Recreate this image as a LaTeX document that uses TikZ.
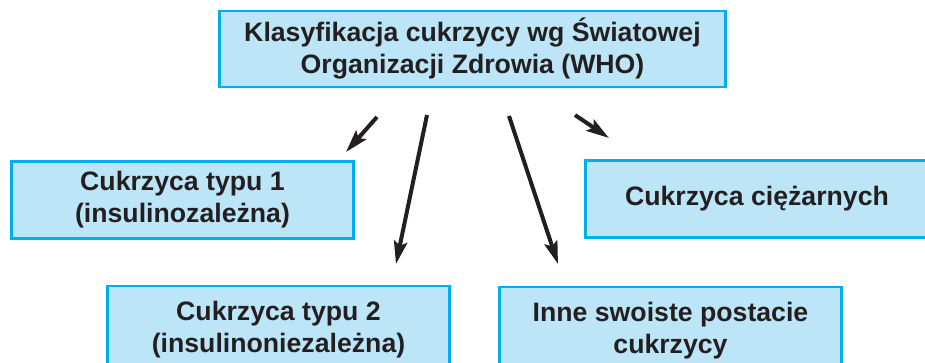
\documentclass[tikz,border=0pt]{standalone}
\usepackage{fontspec}
\setmainfont{Liberation Sans}
\usetikzlibrary{arrows.meta}
\definecolor{boxfill}{HTML}{BDE5F8}
\definecolor{boxline}{HTML}{00AEEF}
\definecolor{ink}{HTML}{231F20}
\begin{document}
\begin{tikzpicture}[x=0.75pt, y=-0.75pt,
  box/.style={rectangle, draw=boxline, fill=boxfill, line width=2.2pt, text=ink,
    font=\fontsize{20}{24}\selectfont\bfseries, align=center,
    minimum width=257pt, minimum height=#1, inner sep=0pt},
  arr/.style={draw=ink, line width=3pt, -{Stealth[length=17pt, width=10pt, inset=3pt]}}]
\useasboundingbox (0,0) rectangle (925,363);
\node [box=57pt, minimum width=380pt] (who) at (472.5,49) {Klasyfikacja cukrzycy wg Światowej\\Organizacji Zdrowia (WHO)};
\node [box=58pt] (typ1) at (182.5,200) {Cukrzyca typu 1\\(insulinozależna)};
\node [box=58pt] (ciaz) at (757,199) {Cukrzyca ciężarnych};
\node [box=66pt] (typ2) at (278.5,330) {Cukrzyca typu 2\\(insulinoniezależna)};
\node [box=66pt] (inne) at (670.5,331) {Inne swoiste postacie\\cukrzycy};
\coordinate (a1) at (377,117); \coordinate (b1) at (346,152);
\coordinate (a2) at (427,115); \coordinate (b2) at (396,264);
\coordinate (a3) at (509,116); \coordinate (b3) at (558,264);
\coordinate (a4) at (575,115); \coordinate (b4) at (609,138);
\draw [arr] (a1) -- (b1);
\draw [arr] (a2) -- (b2);
\draw [arr] (a3) -- (b3);
\draw [arr] (a4) -- (b4);
\end{tikzpicture}
\end{document}
